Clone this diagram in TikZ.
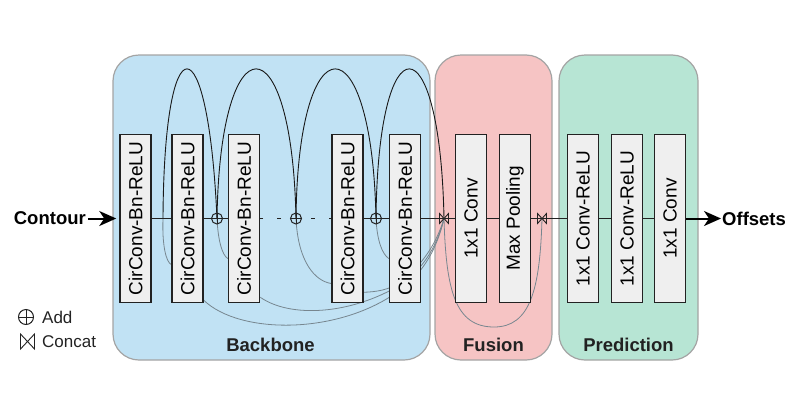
\documentclass[tikz,border=0pt]{standalone}
\usepackage{fontspec}
\setmainfont{Liberation Sans}
\usepackage{graphicx}
\usetikzlibrary{arrows.meta,calc}
\pgfdeclarelayer{panels}
\pgfdeclarelayer{curves}
\pgfsetlayers{panels,curves,main}
\definecolor{bbblue}{HTML}{C1E2F4}
\definecolor{fupink}{HTML}{F6C4C4}
\definecolor{prgreen}{HTML}{B7E5D4}
\definecolor{panelline}{HTML}{A4A4A4}
\definecolor{boxfill}{HTML}{EFEFEF}
\definecolor{ink}{HTML}{222222}
\definecolor{skipgray}{HTML}{77868F}
\begin{document}
\begin{tikzpicture}[x=1pt,y=-1pt,
  panel/.style={draw=panelline, line width=1.2pt, rounded corners=26pt},
  paneltitle/.style={font=\fontsize{18.5}{22}\bfseries\selectfont, text=ink},
  box/.style={draw=ink, fill=boxfill, line width=1.5pt, minimum width=31pt,
    minimum height=168pt, inner sep=0pt, font=\fontsize{19}{22}\selectfont},
  mainline/.style={draw=ink, line width=1.5pt},
  arcline/.style={draw=black!90, line width=0.9pt},
  skipline/.style={draw=skipgray, line width=0.8pt},
  addnode/.style={circle, draw=ink, line width=1pt, minimum size=11pt, inner sep=0pt,
    path picture={\draw[ink, line width=1pt]
      (path picture bounding box.north) -- (path picture bounding box.south)
      (path picture bounding box.west) -- (path picture bounding box.east);}},
  catnode/.style={rectangle, minimum width=9pt, minimum height=10pt, inner sep=0pt, outer sep=0pt},
  catsym/.style={draw=ink, line width=0.9pt},
  bigbold/.style={font=\fontsize{18.5}{22}\bfseries\selectfont, text=black, inner sep=0pt},
  legtext/.style={font=\fontsize{17}{20}\selectfont, text=ink, inner sep=0pt, anchor=west},
  thickarrow/.style={draw=black, line width=2pt, -{Stealth[length=17pt,width=15pt,inset=5pt]}},
  dashpat/.style={dash pattern=on 0pt off 9pt on 4pt off 14pt on 4pt off 100pt}
]
\useasboundingbox (0,0) rectangle (803,402);

% ---- boxes ----
\node[box] (b1) at (135.5,218.5) {\rotatebox{90}{CirConv-Bn-ReLU}};
\node[box] (b2) at (187.5,218.5) {\rotatebox{90}{CirConv-Bn-ReLU}};
\node[box] (b3) at (244,218.5) {\rotatebox{90}{CirConv-Bn-ReLU}};
\node[box] (b4) at (347.5,218.5) {\rotatebox{90}{CirConv-Bn-ReLU}};
\node[box] (b5) at (405,218.5) {\rotatebox{90}{CirConv-Bn-ReLU}};
\node[box] (f1) at (471,218.5) {\rotatebox{90}{1x1 Conv}};
\node[box] (f2) at (515,218.5) {\rotatebox{90}{Max Pooling}};
\node[box] (p1) at (583,218.5) {\rotatebox{90}{1x1 Conv-ReLU}};
\node[box] (p2) at (627,218.5) {\rotatebox{90}{1x1 Conv-ReLU}};
\node[box] (p3) at (670,218.5) {\rotatebox{90}{1x1 Conv}};

% ---- add / concat ----
\node[addnode] (add1) at (217,218.5) {};
\node[addnode] (add2) at (296,218.5) {};
\node[addnode] (add3) at (376,218.5) {};
\node[catnode] (cat1) at (444,218.5) {};
\node[catnode] (cat2) at (542,218.5) {};
\draw[catsym] (cat1.north west) -- (cat1.south west) -- (cat1.north east) -- (cat1.south east) -- cycle;
\draw[catsym] (cat2.north west) -- (cat2.south west) -- (cat2.north east) -- (cat2.south east) -- cycle;
\coordinate (j1) at (163,218.5);

% ---- input / output ----
\node[bigbold, anchor=east] (contour) at (86,218.5) {Contour};
\node[bigbold, anchor=west] (offsets) at (722,218.5) {Offsets};
\draw[thickarrow, shorten <=2pt, shorten >=3pt] (contour) -- (b1);
\draw[thickarrow, shorten >=1pt] (p3) -- (offsets);

% ---- main line ----
\draw[mainline] (b1) -- (b2);
\draw[mainline] (b2) -- (add1) -- (b3);
\draw[mainline, dashpat] (add2) -- (b3);
\draw[mainline, dashpat] (add2) -- (b4);
\draw[mainline] (b4) -- (add3) -- (b5);
\draw[mainline] (b5) -- (cat1.center) -- (f1);
\draw[mainline] (f1) -- (f2);
\draw[mainline] (f2) -- (cat2.center) -- (p1);
\draw[mainline] (p1) -- (p2);
\draw[mainline] (p2) -- (p3);

% ---- legend ----
\node[addnode, minimum size=15pt] (legadd) at (26,317) {};
\node[legtext] (addtxt) at (42,317) {Add};
\node[catnode, minimum width=14pt, minimum height=15pt] (legcat) at (27.5,341.5) {};
\draw[catsym] (legcat.north west) -- (legcat.south west) -- (legcat.north east) -- (legcat.south east) -- cycle;
\node[legtext] (cattxt) at (42,341.5) {Concat};

% ---- curves ----
\begin{pgfonlayer}{curves}
  % upper arcs
  \draw[arcline] (j1) .. controls (164,19) and (208,19) .. (add1.center);
  \draw[arcline] (add1.center) .. controls (220,19) and (292,19) .. (add2.center);
  \draw[arcline] (add2.center) .. controls (298,19) and (372,19) .. (add3.center);
  \draw[arcline] (add3.center) .. controls (378,19) and (440,19) .. (cat1.center);
  % lower legs
  \draw[skipline] (j1) .. controls (162,245) and (166,262) .. ($(b2.west)+(0,46)$);
  \draw[skipline] (add1.center) .. controls (218,240) and (222,255) .. ($(b3.west)+(0,40)$);
  \draw[skipline] (add2.center) .. controls (298,262) and (315,281) .. ($(b4.west)+(0,65)$);
  \draw[skipline] (add3.center) .. controls (377,240) and (382,254) .. ($(b5.west)+(0,40)$);
  % outputs to concat
  \draw[skipline] ($(b2.south east)+(0,-3)$) .. controls (240,335) and (340,335) .. (400,290)
     .. controls (425,272) and (438,245) .. (cat1.center);
  \draw[skipline] ($(b3.south east)+(0,-6)$) .. controls (290,318) and (350,315) .. (400,285)
     .. controls (425,268) and (438,243) .. (cat1.center);
  \draw[skipline] ($(b4.south east)+(0,-11)$) .. controls (375,292) and (390,290) .. (400,282)
     .. controls (423,265) and (437,242) .. (cat1.center);
  % global feature skip
  \draw[skipline] (cat1.center) .. controls (446,290) and (455,327) .. (494,327)
     .. controls (530,327) and (540,290) .. (cat2.center);
\end{pgfonlayer}

% ---- panels ----
\begin{pgfonlayer}{panels}
  \draw[panel, fill=bbblue] (113,55) rectangle (430,360);
  \draw[panel, fill=fupink] (435,55) rectangle (552,360);
  \draw[panel, fill=prgreen] (559,55) rectangle (698,360);
  \node[paneltitle] (tbb) at (270.5,345) {Backbone};
  \node[paneltitle] (tfu) at (493.5,345) {Fusion};
  \node[paneltitle] (tpr) at (628.5,345) {Prediction};
\end{pgfonlayer}
\end{tikzpicture}
\end{document}
